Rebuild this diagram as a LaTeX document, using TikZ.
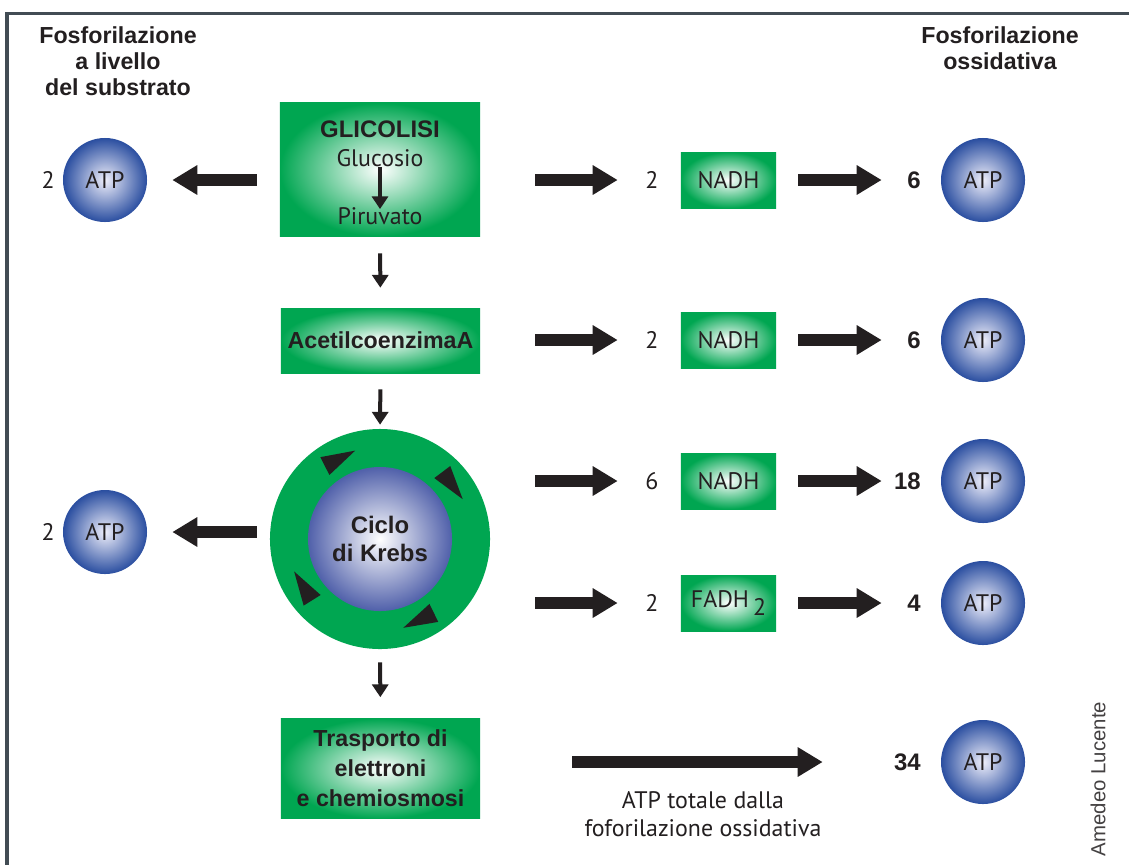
\documentclass[tikz,border=0pt]{standalone}
\usepackage{fontspec}
\setmainfont{Liberation Sans}
\newfontfamily\softfont{PT Sans}
\usetikzlibrary{arrows.meta,positioning,calc}
\definecolor{krebsgreen}{RGB}{0,166,81}
\definecolor{atpblue}{RGB}{42,78,160}
\definecolor{atplight}{RGB}{238,238,250}
\definecolor{cycleblue}{RGB}{80,96,170}
\definecolor{inkblack}{RGB}{35,31,32}
\definecolor{framegray}{RGB}{66,76,84}

\begin{document}
\begin{tikzpicture}[x=0.025cm, y=-0.025cm, >=Latex,
  every node/.style={text=inkblack},
  greenbox/.style={rectangle, inner sep=0pt, shading=radial, inner color=white, outer color=krebsgreen},
  atp/.style={circle, minimum size=2.1cm, inner sep=0pt, shading=radial, inner color=atplight, outer color=atpblue, font=\softfont\fontsize{17}{20}\selectfont},
  fatarrow/.style={draw=inkblack, line width=3mm, -{Triangle[length=6.25mm, width=7mm]}},
  thinarrow/.style={draw=inkblack, line width=1mm, -{Triangle[length=3.2mm, width=4mm]}},
  head/.style={font=\bfseries\fontsize{16.5}{18.5}\selectfont, align=center},
  boxtext/.style={font=\bfseries\fontsize{16.5}{21.3}\selectfont, align=center},
  soft/.style={font=\softfont\fontsize{17}{20}\selectfont, inner sep=0pt},
  tot/.style={font=\bfseries\fontsize{17}{20}\selectfont, anchor=east, inner sep=0pt}]
\clip (0,0) rectangle (1129,864);
\fill[white] (0,0) rectangle (1129,864);
\draw[framegray, line width=0.075cm] (7,880) -- (7,13) -- (1140,13);

\node[head] (subhead) at (118,61) {Fosforilazione\\a livello\\del substrato};
\node[head] (oxhead) at (1000,48) {Fosforilazione\\ossidativa};

% main column
\node[greenbox, minimum width=5cm, minimum height=3.325cm] (glyc) at (380,169.5) {};
\node[boxtext, font=\bfseries\fontsize{17}{20}\selectfont] (glycname) at (380,129) {GLICOLISI};
\node[soft] (glucose) at (380,158) {Glucosio};
\node[soft] (pyruvate) at (380,216) {Piruvato};
\draw[thinarrow, shorten >=-0.05cm] (glucose.south) -- (pyruvate.north);

\node[greenbox, minimum width=4.975cm, minimum height=1.625cm, boxtext] (acetyl) at (380.5,340.5) {AcetilcoenzimaA};

\node[circle, fill=krebsgreen, minimum size=5.5cm] (krebs) at (380,539) {};
\node[circle, minimum size=3.6cm, shading=radial, inner color=white, outer color=cycleblue, boxtext, font=\bfseries\fontsize{17}{20}\selectfont] (cycle) at (krebs.center) {Ciclo\\di Krebs};
\foreach \a in {117,37,212,296}
  \fill[inkblack, shift={($(krebs.center)+(\a:2.25cm)$)}, rotate=\a-90]
    (0.45cm,0) -- (-0.4cm,0.25cm) -- (-0.4cm,-0.25cm) -- cycle;

\node[greenbox, minimum width=4.975cm, minimum height=2.5cm, boxtext] (transport) at (380.5,768.5) {Trasporto di\\elettroni\\e chemiosmosi};

\draw[thinarrow, shorten <=0.425cm, shorten >=0.5cm] (glyc.south) -- (acetyl.north);
\draw[thinarrow, shorten <=0.4cm, shorten >=0.1cm] (acetyl.south) -- (krebs.north);
\draw[thinarrow, shorten <=0.325cm, shorten >=0.525cm] (krebs.south) -- (transport.north);

% substrate level
\node[atp] (atpL1) at (105,180) {ATP};
\node[soft, anchor=east] (cntL1) at (55,180) {2};
\node[atp] (atpL2) at (105,532) {ATP};
\node[soft, anchor=east] (cntL2) at (55,532) {2};
\draw[fatarrow, shorten <=0.575cm, shorten >=0.625cm] (glyc.west |- atpL1) -- (atpL1.east);
\draw[fatarrow, shorten <=0.325cm, shorten >=0.625cm] (krebs.west |- atpL2) -- (atpL2.east);

% oxidative
\foreach \i/\y/\n/\c/\m in {1/180/2/NADH/6, 2/340/2/NADH/6, 3/481/6/NADH/18, 4/603/2/{FADH\,\raisebox{-6pt}{2}}/4}{
  \node[soft] (cnt\i) at (652,\y) {\n};
  \node[greenbox, minimum width=2.375cm, minimum height=1.4cm, soft] (carrier\i) at (728.5,\y) {\c};
  \node[tot] (tot\i) at (921,\y) {\m};
  \node[atp] (atpR\i) at (983,\y) {ATP};
  \draw[fatarrow, shorten <=0.55cm, shorten >=1.475cm] (carrier\i.east) -- (atpR\i.west);
}
\foreach \s/\i/\g in {glyc/1/1.375cm, acetyl/2/1.375cm, krebs/3/1.125cm, krebs/4/1.125cm}
  \draw[fatarrow, shorten <=\g, shorten >=1.575cm] (\s.east |- carrier\i) -- (carrier\i.west);

\node[tot] (tot5) at (921,762) {34};
\node[atp] (atpR5) at (983,762) {ATP};
\draw[fatarrow, shorten <=2.3cm, shorten >=2.95cm] (transport.east |- atpR5) -- (atpR5.west);
\node[soft, align=center, font=\softfont\fontsize{17}{20}\selectfont] (sumnote) at (703,814) {ATP totale dalla\\foforilazione ossidativa};

\node[font=\fontsize{14.5}{17}\selectfont, rotate=90, text=inkblack!85] (author) at (1098,779) {Amedeo Lucente};
\end{tikzpicture}
\end{document}
